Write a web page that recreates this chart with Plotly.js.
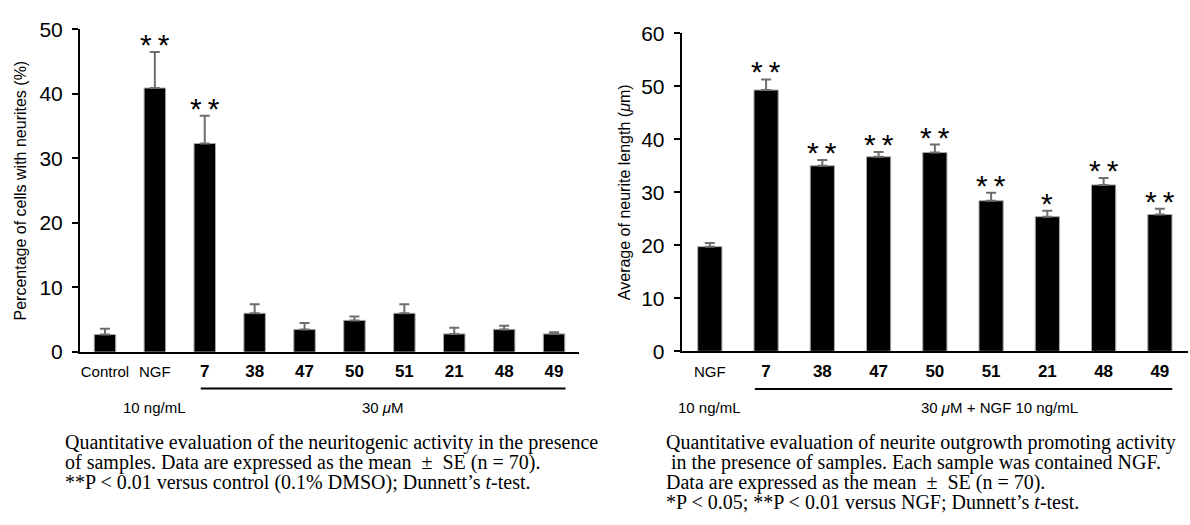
<!DOCTYPE html>
<html>
<head>
<meta charset="utf-8">
<script src="https://cdn.plot.ly/plotly-3.0.1.min.js"></script>
<style>
  html, body { margin: 0; padding: 0; background: #fff; }
  #chart { width: 1190px; height: 525px; }
</style>
</head>
<body>
<div id="chart"></div>
<script>
// ---- Data ----
const leftCats   = ['Control', 'NGF', '7', '38', '47', '50', '51', '21', '48', '49'];
const leftLabels = ['Control', 'NGF', '7', '38', '47', '50', '51', '21', '48', '49'];
const leftVals   = [2.7, 40.9, 32.3, 6.0, 3.5, 4.9, 6.0, 2.8, 3.5, 2.8];
const leftErr    = [0.9, 5.6, 4.3, 1.4, 1.0, 0.6, 1.4, 0.95, 0.55, 0.25];
const leftSig    = ['', '**', '**', '', '', '', '', '', '', ''];

const rightCats   = ['NGF', '7', '38', '47', '50', '51', '21', '48', '49'];
const rightLabels = ['NGF', '7', '38', '47', '50', '51', '21', '48', '49'];
const rightVals   = [19.75, 49.3, 35.0, 36.7, 37.5, 28.4, 25.4, 31.4, 25.8];
const rightErr    = [0.7, 2.0, 1.1, 0.9, 1.5, 1.5, 1.1, 1.3, 1.1];
const rightSig    = ['', '**', '**', '**', '**', '**', '*', '**', '**'];

const leftYTicks  = [0, 10, 20, 30, 40, 50];
const rightYTicks = [0, 10, 20, 30, 40, 50, 60];

const leftYTitle  = 'Percentage of cells with neurites (%)';
const rightYTitle = 'Average of neurite length (<i>μ</i>m)';
const leftGroupLabels  = ['10 ng/mL', '30 <i>μ</i>M'];
const rightGroupLabels = ['10 ng/mL', '30 <i>μ</i>M + NGF 10 ng/mL'];

const leftCaption = [
  'Quantitative evaluation of the neuritogenic activity in the presence',
  'of samples. Data are expressed as the mean \u00a0±\u00a0 SE (n = 70).',
  '**P &lt; 0.01 versus control (0.1% DMSO); Dunnett’s <i>t</i>-test.'
];
const rightCaption = [
  'Quantitative evaluation of neurite outgrowth promoting activity',
  '\u00a0in the presence of samples. Each sample was contained NGF.',
  'Data are expressed as the mean \u00a0±\u00a0 SE (n = 70).',
  '*P &lt; 0.05; **P &lt; 0.01 versus NGF; Dunnett’s <i>t</i>-test.'
];

// ---- Layout helpers ----
const W = 1190, H = 525;
const px = v => v / W;
const py = v => 1 - v / H;
const SANS = 'Liberation Sans, Arial, sans-serif';
const SERIF = 'Liberation Serif, Times New Roman, serif';

function tickText(lbl) {
  if (/^\d+$/.test(lbl)) return '<b>' + lbl + '</b>';
  return '<span style="font-size:15px">' + lbl + '</span>';
}

function barTrace(cats, vals, errs, xa, ya) {
  return {
    type: 'bar', x: cats, y: vals, xaxis: xa, yaxis: ya,
    marker: { color: '#000', line: { color: '#a8a8a8', width: 1 } },
    error_y: { type: 'data', symmetric: false, array: errs,
               arrayminus: errs.map(() => 0),
               color: '#6e6e6e', thickness: 2, width: 5 },
    hoverinfo: 'skip', showlegend: false
  };
}

const traces = [
  barTrace(leftCats, leftVals, leftErr, 'x', 'y'),
  barTrace(rightCats, rightVals, rightErr, 'x2', 'y2')
];

const annotations = [];
function addSig(cats, vals, errs, sig, xref, yref) {
  cats.forEach((c, i) => {
    if (!sig[i]) return;
    annotations.push({
      xref: xref, yref: yref, x: i, y: vals[i] + errs[i],
      text: sig[i].split('').join('\u2009'), showarrow: false,
      yanchor: 'bottom', xanchor: 'center', yshift: -11,
      font: { family: SANS, size: 30, color: '#000' }
    });
  });
}
addSig(leftCats, leftVals, leftErr, leftSig, 'x', 'y');
addSig(rightCats, rightVals, rightErr, rightSig, 'x2', 'y2');

// group labels under x axis
const leftUnder = [2 - 0.08, 9 + 0.23];
const rightUnder = [1 - 0.2, 8 + 0.22];
annotations.push({ xref: 'x', yref: 'paper', x: 1, y: py(407), text: leftGroupLabels[0],
  showarrow: false, yanchor: 'middle', font: { family: SANS, size: 15, color: '#000' } });
annotations.push({ xref: 'x', yref: 'paper', x: (leftUnder[0] + leftUnder[1]) / 2, y: py(407), text: leftGroupLabels[1],
  showarrow: false, yanchor: 'middle', font: { family: SANS, size: 15, color: '#000' } });
annotations.push({ xref: 'x2', yref: 'paper', x: 0, y: py(407), text: rightGroupLabels[0],
  showarrow: false, yanchor: 'middle', font: { family: SANS, size: 15, color: '#000' } });
annotations.push({ xref: 'x2', yref: 'paper', x: 5.15, y: py(407), text: rightGroupLabels[1],
  showarrow: false, yanchor: 'middle', font: { family: SANS, size: 15, color: '#000' } });

// captions
leftCaption.forEach((t, i) => annotations.push({
  xref: 'paper', yref: 'paper', x: px(63), y: py(442 + i * 20), text: t,
  showarrow: false, xanchor: 'left', yanchor: 'middle', align: 'left',
  font: { family: SERIF, size: 20, color: '#000' }
}));
rightCaption.forEach((t, i) => annotations.push({
  xref: 'paper', yref: 'paper', x: px(664), y: py(442 + i * 20), text: t,
  showarrow: false, xanchor: 'left', yanchor: 'middle', align: 'left',
  font: { family: SERIF, size: 20, color: '#000' }
}));

const shapes = [
  { type: 'line', xref: 'x', yref: 'paper', x0: leftUnder[0], x1: leftUnder[1],
    y0: py(388.5), y1: py(388.5), line: { color: '#000', width: 2 } },
  { type: 'line', xref: 'x2', yref: 'paper', x0: rightUnder[0], x1: rightUnder[1],
    y0: py(389), y1: py(389), line: { color: '#000', width: 2 } }
];

function xAxis(cats, labels, domain, anchor) {
  return {
    domain: domain, anchor: anchor, type: 'category',
    range: [-0.5, cats.length - 0.5],
    tickvals: cats, ticktext: labels.map(tickText),
    showline: true, linecolor: '#000', linewidth: 2,
    ticks: '', showgrid: false, zeroline: false,
    tickfont: { family: SANS, size: 17, color: '#000' },
    ticklabelstandoff: 3, fixedrange: true
  };
}
function yAxis(ticks, domain, anchor, title, standoff) {
  return {
    domain: domain, anchor: anchor,
    range: [0, ticks[ticks.length - 1]],
    tickvals: ticks, ticktext: ticks.map(String),
    showline: true, linecolor: '#000', linewidth: 2,
    ticks: 'outside', ticklen: 6, tickwidth: 2, tickcolor: '#000',
    showgrid: false, zeroline: false,
    tickfont: { family: SANS, size: 21, color: '#000' },
    ticklabelstandoff: 5,
    title: { text: title, font: { family: SANS, size: 16, color: '#000' }, standoff: standoff },
    fixedrange: true
  };
}

const layout = {
  width: W, height: H,
  margin: { l: 0, r: 0, t: 0, b: 0 },
  paper_bgcolor: '#fff', plot_bgcolor: 'rgba(0,0,0,0)',
  bargap: 0.57,
  xaxis:  xAxis(leftCats, leftLabels, [px(80), px(579)], 'y'),
  yaxis:  yAxis(leftYTicks, [py(352), py(29.3)], 'x', leftYTitle, 9),
  xaxis2: xAxis(rightCats, rightLabels, [px(681.7), px(1188)], 'y2'),
  yaxis2: yAxis(rightYTicks, [py(351.3), py(33.3)], 'x2', rightYTitle, 7),
  annotations: annotations,
  shapes: shapes,
  showlegend: false
};

Plotly.newPlot('chart', traces, layout, { staticPlot: true, displayModeBar: false });
</script>
</body>
</html>
